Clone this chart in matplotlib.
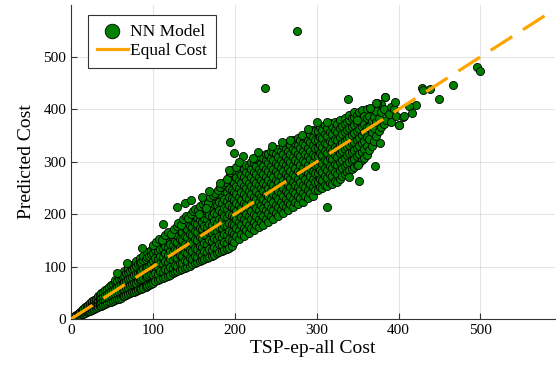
import matplotlib.pyplot as plt

plt.rcParams['font.family'] = ['Liberation Serif', 'DejaVu Serif']

# NN predictions vs TSP-ep-all cost
low_cols = [1.5, 3, 4.5, 6, 8, 9.5, 11, 13, 15, 17, 19, 21, 23, 25.5, 28, 30,
            32.5, 35, 37, 39.5, 42, 44, 46.5, 49, 51, 53.5, 56, 58, 60.5, 63,
            65, 67.5, 70, 72, 74.5, 77, 79, 81.5, 84, 86, 88.5, 91, 93, 95.5, 98]
low_ys = [[1, 2], [2, 3.5], [3, 5, 6], [4, 6.5, 8], [5.5, 8, 10], [6.5, 9, 12],
          [7.5, 11, 14], [9, 12, 15.5, 17], [10, 14, 17, 20], [11.5, 16, 20, 23],
          [13, 17, 22, 25], [14.5, 19, 24, 27], [16, 21, 26, 30],
          [17, 23, 28, 34], [19, 26, 31, 37], [21, 27, 34, 39],
          [22, 30, 36, 43], [24, 31, 38, 46], [25, 33, 41, 49],
          [27, 36, 44, 52], [29, 37, 46, 55], [30, 40, 48, 58],
          [32, 41, 51, 62], [33, 44, 53, 65], [35, 45, 56, 67],
          [36, 48, 58, 70, 74], [38, 49, 61, 73], [39, 52, 63, 76],
          [41, 53, 66, 79, 84], [43, 56, 68, 81], [44, 57, 71, 84, 91],
          [46, 60, 73, 87], [48, 61, 76, 90, 97], [49, 64, 78, 92],
          [51, 66, 80, 95, 103], [52, 68, 83, 98], [54, 69, 85, 101, 110],
          [55, 72, 88, 104], [57, 74, 90, 107, 116], [58, 76, 92, 109],
          [60, 78, 95, 112, 121], [62, 80, 97, 115], [63, 82, 100, 118, 127],
          [65, 83, 102, 121], [67, 86, 105, 124, 132]]

mid_cols = [100, 103, 106, 109, 112, 115, 118, 121, 124, 127, 130, 133, 136,
            139, 142, 145, 148, 151, 154, 157, 160, 163, 166, 169, 172, 175,
            178, 181, 184, 187, 190, 193, 196]
mid_ys = [[69, 84, 97, 111, 126, 138], [72, 88, 102, 117, 131],
          [74, 86, 100, 114, 129, 142], [76, 91, 106, 121, 134, 149],
          [78, 89, 104, 118, 133, 147], [80, 95, 110, 125, 140, 154],
          [82, 93, 108, 122, 137, 151, 160], [84, 99, 114, 129, 144, 158],
          [87, 97, 112, 127, 142, 156, 167], [89, 103, 118, 134, 149, 163],
          [91, 101, 116, 131, 146, 161, 174], [93, 107, 122, 138, 153, 168],
          [95, 106, 120, 135, 151, 166, 181], [97, 112, 127, 143, 158, 173],
          [100, 110, 125, 140, 156, 171, 186], [102, 116, 131, 147, 162, 178, 192],
          [104, 114, 129, 145, 161, 176, 188], [106, 121, 136, 152, 168, 183, 199],
          [108, 118, 134, 150, 166, 181, 195], [110, 125, 140, 157, 173, 189, 204],
          [112, 123, 138, 155, 171, 186, 201, 212],
          [115, 129, 145, 161, 177, 193, 208],
          [117, 127, 143, 159, 175, 191, 206, 219],
          [119, 134, 150, 166, 182, 198, 214],
          [121, 132, 148, 164, 180, 196, 212, 226],
          [123, 138, 154, 170, 187, 203, 219],
          [125, 136, 152, 168, 184, 201, 217, 233],
          [127, 143, 159, 175, 191, 208, 224, 239],
          [130, 141, 157, 173, 189, 205, 222, 236, 252],
          [132, 147, 163, 180, 196, 212, 229, 245],
          [134, 145, 161, 177, 194, 210, 226, 242, 258],
          [136, 152, 168, 184, 201, 217, 233, 250, 270],
          [140, 150, 166, 182, 198, 214, 231, 247, 263]]

# ragged upper edge of the cloud between 100 and 200
fringe_x = [100, 104, 108, 111, 115, 119, 122, 126, 129, 131, 134, 137, 140,
            143, 146, 149, 152, 155, 158, 161, 164, 167, 170, 173, 176, 179,
            182, 185, 188, 191, 194, 197, 193, 202, 182, 156, 165]
fringe_y = [142, 146, 152, 150, 160, 166, 163, 172, 178, 184, 180, 190, 196,
            193, 201, 206, 210, 207, 216, 220, 225, 222, 232, 236, 240, 246,
            252, 258, 262, 268, 280, 284, 284, 290, 260, 200, 212]

high_cols = [199, 202, 205, 208, 211, 214, 217, 220, 223, 226, 229, 232, 235,
             238, 241, 244, 247, 250, 253, 256, 259, 262, 265, 268, 271, 274,
             277, 280, 283, 286, 289, 292, 295, 298]
high_ys = [[147, 163, 179, 195, 211, 227, 243, 259, 275],
           [158, 174, 190, 206, 222, 238, 254, 270, 286],
           [153, 169, 185, 201, 217, 233, 249, 265, 281],
           [163, 179, 195, 211, 227, 243, 259, 275, 291],
           [158, 174, 190, 206, 222, 238, 254, 270, 286],
           [169, 185, 201, 217, 233, 249, 265, 281, 293],
           [164, 180, 196, 212, 228, 244, 260, 276, 292],
           [174, 190, 206, 222, 238, 254, 270, 286, 300],
           [169, 185, 201, 217, 233, 249, 265, 281, 297],
           [180, 196, 212, 228, 244, 260, 276, 292, 305],
           [175, 191, 207, 223, 239, 255, 271, 287, 303],
           [185, 201, 217, 233, 249, 265, 281, 297, 309],
           [180, 196, 212, 228, 244, 260, 276, 292, 308],
           [191, 207, 223, 239, 255, 271, 287, 303, 314],
           [186, 202, 218, 234, 250, 266, 282, 298, 314],
           [196, 212, 228, 244, 260, 276, 292, 308, 320],
           [191, 207, 223, 239, 255, 271, 287, 303, 319],
           [202, 218, 234, 250, 266, 282, 298, 314],
           [197, 213, 229, 245, 261, 277, 293, 309, 325],
           [208, 224, 240, 256, 272, 288, 304, 320],
           [202, 218, 234, 250, 266, 282, 298, 314, 330],
           [213, 229, 245, 261, 277, 293, 309, 325],
           [208, 224, 240, 256, 272, 288, 304, 320, 336],
           [219, 235, 251, 267, 283, 299, 315, 331],
           [213, 229, 245, 261, 277, 293, 309, 325, 341],
           [224, 240, 256, 272, 288, 304, 320, 336],
           [219, 235, 251, 267, 283, 299, 315, 331, 346],
           [230, 246, 262, 278, 294, 310, 326, 342],
           [224, 240, 256, 272, 288, 304, 320, 336, 350],
           [235, 251, 267, 283, 299, 315, 331, 347],
           [230, 246, 262, 278, 294, 310, 326, 342, 355],
           [241, 257, 273, 289, 305, 321, 337, 353],
           [235, 251, 267, 283, 299, 315, 331, 347, 360],
           [246, 262, 278, 294, 310, 326, 342, 358]]

top_cols = [301, 304, 307, 310, 313, 316, 319, 322, 325, 328, 331, 334, 337,
            340, 343, 346, 349, 352, 355, 358, 361, 364, 367, 370, 373, 376,
            379, 382, 385, 388, 391, 394, 397]
top_ys = [[246, 262, 278, 294, 310, 326, 342, 358],
          [252, 268, 284, 300, 316, 332, 348, 366],
          [249, 265, 281, 297, 313, 329, 345, 361],
          [256, 272, 288, 304, 320, 336, 352, 370],
          [253, 269, 285, 301, 317, 333, 349, 364],
          [260, 276, 292, 308, 324, 340, 356, 373],
          [258, 273, 289, 305, 321, 337, 353, 368],
          [264, 280, 296, 312, 328, 344, 360, 376],
          [262, 277, 293, 309, 325, 341, 357, 372],
          [268, 284, 300, 316, 332, 348, 364, 380],
          [272, 288, 304, 320, 336, 352, 368],
          [276, 292, 308, 324, 340, 356, 372, 384],
          [280, 296, 312, 328, 344, 360, 376],
          [284, 300, 316, 332, 348, 364, 380, 390],
          [287, 303, 319, 335, 351, 367, 383],
          [290, 306, 322, 338, 354, 370, 386, 395],
          [294, 310, 326, 342, 358, 374, 390],
          [298, 314, 330, 346, 362, 378, 394],
          [303, 319, 335, 351, 367, 383, 399],
          [308, 324, 340, 356, 372, 388],
          [312, 330, 348, 366, 384, 400],
          [322, 344, 366, 388],
          [330, 356, 378, 398],
          [340, 364, 386],
          [350, 376, 396],
          [358, 384],
          [366, 394, 410],
          [372, 400],
          [380],
          [392],
          [375, 404],
          [400],
          [388]]

out_x = [276, 237, 496, 500, 467, 449, 428, 438, 430, 421, 413, 416, 406, 400,
         338, 383, 374, 396, 313, 352, 371, 340, 351, 194, 199, 210, 222, 168,
         160, 130, 139, 147, 112, 87, 68, 56, 384, 372, 282, 267, 312, 246,
         258, 205, 228, 300, 290, 377, 401, 407, 365, 349]
out_y = [550, 441, 481, 473, 447, 420, 441, 439, 437, 408, 406, 393, 386, 370,
         420, 424, 412, 414, 214, 263, 292, 271, 294, 338, 317, 311, 307, 244,
         233, 214, 221, 227, 181, 135, 107, 88, 424, 412, 351, 342, 376, 330,
         338, 300, 318, 375, 363, 336, 370, 387, 402, 380]

equal_x = [0, 590]
equal_y = [0, 590]

xs, ys = [], []
for cols, groups in [(low_cols, low_ys), (mid_cols, mid_ys),
                     (high_cols, high_ys), (top_cols, top_ys)]:
    for c, g in zip(cols, groups):
        xs += [c] * len(g)
        ys += g
xs += fringe_x + out_x
ys += fringe_y + out_y

fig = plt.figure(figsize=(5.56, 3.75), dpi=100)
ax = fig.add_axes([0.1277, 0.1493, 0.8705, 0.8374])

ax.scatter(xs, ys, s=34, c='#008000', edgecolors='black', linewidths=0.6,
           label='NN Model', zorder=2)
ax.plot(equal_x, equal_y, color='#ffa500', lw=2.3, ls=(0, (8, 4)),
        label='Equal Cost', zorder=3)

ax.set_xlim(0, 591)
ax.set_ylim(0, 599)
ax.set_xticks([0, 100, 200, 300, 400, 500])
ax.set_yticks([0, 100, 200, 300, 400, 500])
ax.grid(True, color='black', alpha=0.1, lw=0.8)
ax.set_axisbelow(True)
for s in ['top', 'right']:
    ax.spines[s].set_visible(False)
for s in ['left', 'bottom']:
    ax.spines[s].set_color('#333333')
ax.tick_params(direction='in', length=4, labelsize=11, color='#333333')

ax.set_xlabel('TSP-ep-all Cost', fontsize=14, labelpad=2)
ax.set_ylabel('Predicted Cost', fontsize=14, labelpad=6)

leg = ax.legend(loc='upper left', bbox_to_anchor=(0.035, 0.968), fontsize=12.5,
                fancybox=False, edgecolor='#333333', framealpha=1,
                markerscale=1.8, handlelength=1.8, borderpad=0.5,
                handletextpad=0.15, labelspacing=0.2, borderaxespad=0)
leg.get_frame().set_linewidth(0.8)
leg.get_lines()[0].set_linestyle('-')

fig.savefig('out.png', dpi=100)
